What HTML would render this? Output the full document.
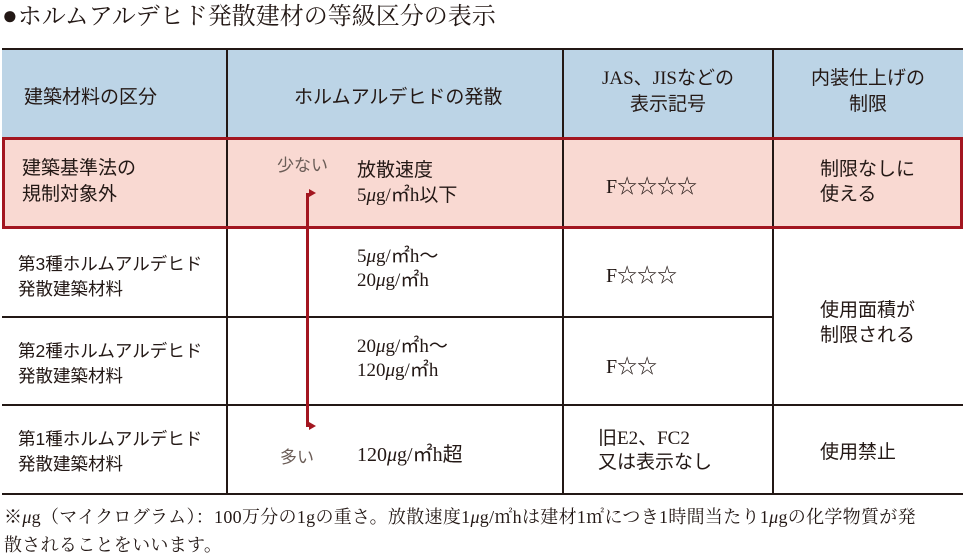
<!DOCTYPE html>
<html><head><meta charset="utf-8"><style>
body{margin:0;width:963px;height:558px;background:#fff;position:relative;overflow:hidden;font-family:"Liberation Serif","Noto Sans CJK JP",sans-serif;color:#231815}
.a{position:absolute;white-space:nowrap}
.s{font-family:"Liberation Sans","Noto Sans CJK JP",sans-serif}
.h{position:absolute;background:#231815}
.v{position:absolute;background:#231815;width:2px}
</style></head><body>
<div class="a" style="left:2px;top:0px;font-size:24px;line-height:32px;font-family:'Liberation Serif','Noto Serif CJK SC',serif"><span style="font-size:26px">●</span>ホルムアルデヒド発散建材の等級区分の表示</div>
<div style="position:absolute;left:2px;top:49px;width:961px;height:89px;background:#bcd4e6"></div>
<div style="position:absolute;left:2px;top:138px;width:961px;height:90px;background:#f9d9d2"></div>
<div class="h" style="left:2px;top:48px;width:961px;height:2px"></div>
<div class="h" style="left:2px;top:316px;width:771px;height:2px"></div>
<div class="h" style="left:2px;top:404px;width:961px;height:2px"></div>
<div class="h" style="left:2px;top:493px;width:961px;height:2px"></div>
<div class="v" style="left:226px;top:49px;height:445px"></div>
<div class="v" style="left:562px;top:49px;height:445px"></div>
<div class="v" style="left:772px;top:49px;height:445px"></div>
<div style="position:absolute;left:2px;top:137px;width:955px;height:86px;border:3px solid #a31620"></div>
<div style="position:absolute;left:306px;top:193px;width:3px;height:234px;background:#a31620"></div>
<div style="position:absolute;left:309px;top:189px;width:0;height:0;border-top:4px solid transparent;border-bottom:4px solid transparent;border-left:7px solid #a31620"></div>
<div style="position:absolute;left:309px;top:422px;width:0;height:0;border-top:4px solid transparent;border-bottom:4px solid transparent;border-left:7px solid #a31620"></div>
<div class="a s" style="left:24px;top:82px;font-size:19px">建築材料の区分</div>
<div class="a s" style="left:294px;top:82px;font-size:19px">ホルムアルデヒドの発散</div>
<div class="a" style="left:563px;width:210px;top:66px;font-size:19px;line-height:26px;text-align:center">JAS、JISなどの<br>表示記号</div>
<div class="a" style="left:773px;width:190px;top:66px;font-size:19px;line-height:26px;text-align:center">内装仕上げの<br>制限</div>
<div class="a s" style="left:22px;top:156px;font-size:19px;line-height:26px">建築基準法の<br>規制対象外</div>
<div class="a s" style="left:277px;top:151px;font-size:17px;color:#6b5d57">少ない</div>
<div class="a" style="left:357px;top:158px;font-size:19px;line-height:25px">放散速度<br>5<i>μ</i>g/㎡h以下</div>
<div class="a" style="left:606px;top:170px;font-size:20px">F☆☆☆☆</div>
<div class="a s" style="left:820px;top:157px;font-size:19px;line-height:25px">制限なしに<br>使える</div>
<div class="a s" style="left:18px;top:252px;font-size:17.5px;line-height:25px">第3種ホルムアルデヒド<br>発散建築材料</div>
<div class="a" style="left:357px;top:245px;font-size:19px;line-height:24px">5<i>μ</i>g/㎡h～<br>20<i>μ</i>g/㎡h</div>
<div class="a" style="left:606px;top:259px;font-size:20px">F☆☆☆</div>
<div class="a s" style="left:820px;top:298px;font-size:19px;line-height:25px">使用面積が<br>制限される</div>
<div class="a s" style="left:18px;top:339px;font-size:17.5px;line-height:25px">第2種ホルムアルデヒド<br>発散建築材料</div>
<div class="a" style="left:357px;top:335px;font-size:19px;line-height:24px">20<i>μ</i>g/㎡h～<br>120<i>μ</i>g/㎡h</div>
<div class="a" style="left:606px;top:350px;font-size:20px">F☆☆</div>
<div class="a s" style="left:18px;top:427px;font-size:17.5px;line-height:25px">第1種ホルムアルデヒド<br>発散建築材料</div>
<div class="a s" style="left:280px;top:443px;font-size:17px;color:#6b5d57">多い</div>
<div class="a" style="left:357px;top:438px;font-size:20px">120<i>μ</i>g/㎡h超</div>
<div class="a" style="left:598px;top:427px;font-size:19px;line-height:24px">旧E2、FC2<br>又は表示なし</div>
<div class="a s" style="left:820px;top:437px;font-size:19px">使用禁止</div>
<div class="a" style="left:4px;top:503px;font-size:18px;line-height:28px;letter-spacing:0.3px;font-family:'Liberation Serif','Noto Serif CJK SC',serif">※<i>μ</i>g（マイクログラム）：100万分の1gの重さ。放散速度1<i>μ</i>g/㎡hは建材1㎡につき1時間当たり1<i>μ</i>gの化学物質が発<br>散されることをいいます。</div>
</body></html>
